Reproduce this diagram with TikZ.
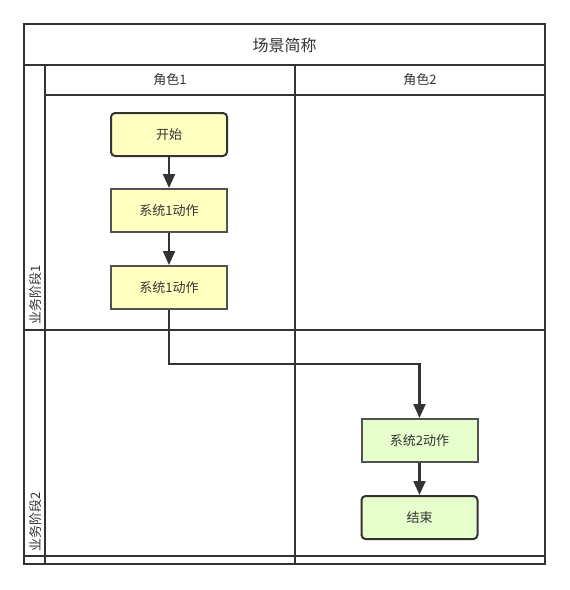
\documentclass[tikz,border=0pt]{standalone}
\usepackage{fontspec}
\setmainfont{Noto Sans CJK SC}
\usetikzlibrary{arrows.meta}
\definecolor{ln}{HTML}{333333}
\definecolor{yel}{HTML}{FFFFC0}
\definecolor{grn}{HTML}{E6FFCC}
\tikzset{
  lane/.style={draw=ln, line width=2.2pt},
  thin/.style={draw=ln, line width=1.6pt},
  txt/.style={font=\fontsize{13}{14}\selectfont, text=ln},
  term/.style={draw=ln, line width=2pt, rounded corners=4pt, minimum width=116pt, minimum height=43pt, txt},
  act/.style={draw=ln!85, line width=2pt, minimum width=116pt, minimum height=43pt, txt},
  flow/.style={draw=ln, line width=2.2pt, -{Triangle[length=14pt,width=12pt]}}
}
\begin{document}
\begin{tikzpicture}[x=1pt,y=-1pt]
\useasboundingbox (0,0) rectangle (570,590);
% frame
\draw[lane] (24,24) rectangle (545,564);
\draw[lane] (24,65) -- (545,65);
\draw[lane] (45,95) -- (545,95);
\draw[lane] (45,65) -- (45,564);
\draw[lane] (295,65) -- (295,564);
\draw[lane] (24,330) -- (545,330);
\draw[thin] (24,556) -- (545,556);
% texts
\node[font=\fontsize{16}{18}\selectfont, text=ln] (title) at (284.5,45) {场景简称};
\node[txt] (role1) at (170,80) {角色1};
\node[txt] (role2) at (420,80) {角色2};
\node[txt, rotate=90, anchor=west, inner sep=1pt] (stage1) at (36,326) {业务阶段1};
\node[txt, rotate=90, anchor=west, inner sep=1pt] (stage2) at (36,553) {业务阶段2};
% nodes
\node[term, fill=yel] (start) at (169,134.5) {开始};
\node[act, fill=yel] (a1) at (169,210.5) {系统1动作};
\node[act, fill=yel] (a2) at (169,287.5) {系统1动作};
\node[act, fill=grn] (b1) at (419.5,440.5) {系统2动作};
\node[term, fill=grn] (end) at (419.5,517.5) {结束};
% connectors
\draw[flow] (start) -- (a1);
\draw[flow] (a1) -- (a2);
\draw[flow] (a2.south) -- (169,364) -| (b1.north);
\draw[flow] (b1) -- (end);
\end{tikzpicture}
\end{document}
